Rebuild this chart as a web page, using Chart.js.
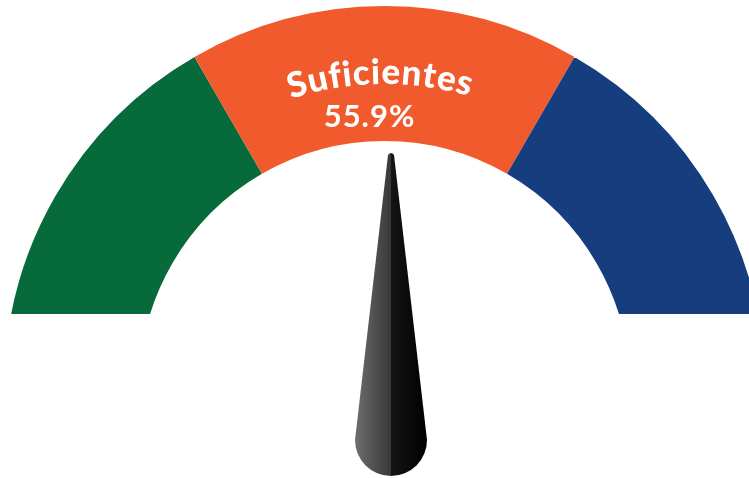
<!DOCTYPE html>
<html>
<head>
<meta charset="utf-8">
<script src="https://cdn.jsdelivr.net/npm/chart.js@4.4.1/dist/chart.umd.min.js"></script>
<style>
  html, body { margin: 0; padding: 0; background: #ffffff; }
  #gauge { display: block; }
</style>
</head>
<body>
<canvas id="gauge" width="749" height="478"></canvas>
<script>
// gauge data
var categories = ['Insuficientes', 'Suficientes', 'Sobresalientes'];
var segmentValues = [1, 1, 1];
var segmentColors = ['#076a3b', '#f15a2c', '#163d7e'];
var activeIndex = 1;
var activePercent = 55.9;

// clip the ring at a flat bottom edge
var clipPlugin = {
    id: 'flatBottom',
    beforeDatasetsDraw: function(chart) {
        var ctx = chart.ctx;
        ctx.save();
        ctx.beginPath();
        ctx.rect(0, 0, chart.width, 314);
        ctx.clip();
    },
    afterDatasetsDraw: function(chart) {
        chart.ctx.restore();
    }
};

// curved label, percent and needle
var gaugeDecor = {
    id: 'gaugeDecor',
    afterDraw: function(chart) {
        var ctx = chart.ctx;
        var arc = chart.getDatasetMeta(0).data[activeIndex];
        var cx = arc.x, cy = arc.y;
        var mid = (arc.startAngle + arc.endAngle) / 2;

        // label along the arc
        var label = categories[activeIndex];
        var r = 302;
        ctx.save();
        ctx.font = '900 35px Lato';
        ctx.fillStyle = '#ffffff';
        ctx.textAlign = 'center';
        ctx.textBaseline = 'alphabetic';
        var gap = 0.8;
        var total = 0;
        for (var i = 0; i < label.length; i++) total += ctx.measureText(label[i]).width + gap;
        total -= gap;
        var acc = 0;
        var start = mid - 0.015 - total / 2 / r;
        for (var j = 0; j < label.length; j++) {
            var w = ctx.measureText(label[j]).width;
            var a = start + (acc + w / 2) / r;
            ctx.save();
            ctx.translate(cx + r * Math.cos(a), cy + r * Math.sin(a));
            ctx.rotate(a + Math.PI / 2);
            ctx.fillText(label[j], 0, 0);
            ctx.restore();
            acc += w + gap;
        }

        // percent value
        ctx.font = 'bold 31px Lato';
        ctx.textBaseline = 'middle';
        ctx.letterSpacing = '1px';
        ctx.fillText(activePercent.toFixed(1) + '%', cx - 15, cy - 269);
        ctx.restore();

        // needle pointing at the middle of the active segment
        var bx = cx + 6.5, by = cy + 54;
        var len = 288, half = 36;
        ctx.save();
        ctx.translate(bx, by);
        ctx.rotate(mid + Math.PI / 2);
        var grad = ctx.createLinearGradient(-half, 0, half, 0);
        grad.addColorStop(0, '#6e6e6e');
        grad.addColorStop(0.495, '#383838');
        grad.addColorStop(0.505, '#141414');
        grad.addColorStop(1, '#000000');
        ctx.fillStyle = grad;
        ctx.beginPath();
        ctx.moveTo(-half, 0);
        ctx.lineTo(-3, -len + 3);
        ctx.quadraticCurveTo(0, -len - 1, 3, -len + 3);
        ctx.lineTo(half, 0);
        ctx.arc(0, 0, half, 0, Math.PI, false);
        ctx.closePath();
        ctx.fill();
        ctx.restore();
    }
};

var gaugeChart = new Chart(document.getElementById('gauge').getContext('2d'), {
    type: 'doughnut',
    data: {
        labels: categories,
        datasets: [{
            data: segmentValues,
            backgroundColor: segmentColors,
            borderWidth: 0,
            hoverOffset: 0
        }]
    },
    options: {
        responsive: false,
        animation: false,
        rotation: -90,
        circumference: 180,
        radius: 380,
        cutout: '64.5%',
        layout: { padding: { left: 20, right: 0, top: 0, bottom: 86 } },
        plugins: {
            legend: { display: false },
            tooltip: { enabled: false }
        }
    },
    plugins: [clipPlugin, gaugeDecor]
});
</script>
</body>
</html>
